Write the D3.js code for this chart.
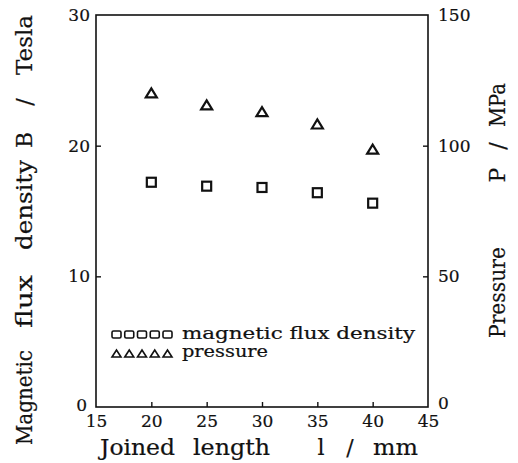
<!DOCTYPE html>
<html>
<head>
<meta charset="utf-8">
<script src="https://cdn.jsdelivr.net/npm/d3@7"></script>
<style>
  html, body { margin: 0; padding: 0; background: #fff; }
  svg { display: block; }
  text { font-family: "DejaVu Serif", "Liberation Serif", serif; fill: #111; stroke: #111; stroke-width: 0.2px; }
</style>
</head>
<body>
<svg id="chart" width="518" height="463"></svg>
<script>
// Joined length (mm) and the two measured quantities
const joinedLength = [20, 25, 30, 35, 40];
const fluxDensity = [17.2, 16.9, 16.8, 16.4, 15.6];   // B / Tesla
const pressure = [120.2, 115.6, 113.0, 108.3, 98.7];  // P / MPa

const xTicks = [15, 20, 25, 30, 35, 40, 45];
const bTicks = [0, 10, 20, 30];
const pTicks = [0, 50, 100, 150];

const legendLabels = ["magnetic flux density", "pressure"];

const frame = { left: 96, right: 428, top: 15, bottom: 407 };
const ink = "#111";
const serif = "DejaVu Serif, Liberation Serif, serif";

const svg = d3.select("#chart");

const x = d3.scaleLinear().domain([15, 45]).range([frame.left, frame.right]);
const yB = d3.scaleLinear().domain([0, 30]).range([frame.bottom, frame.top]);
const yP = d3.scaleLinear().domain([0, 150]).range([frame.bottom, frame.top]);

// Plot frame
svg.append("rect")
  .attr("x", frame.left).attr("y", frame.top)
  .attr("width", frame.right - frame.left).attr("height", frame.bottom - frame.top)
  .attr("fill", "none").attr("stroke", ink).attr("stroke-width", 1.6);

function styleAxis(g, fontSize) {
  g.select(".domain").remove();
  g.selectAll(".tick line").attr("stroke", ink).attr("stroke-width", 1.4);
  g.selectAll(".tick text").attr("font-size", fontSize).attr("fill", ink)
    .attr("font-family", serif);
}

// Bottom axis: ticks point into the plot
const gx = svg.append("g").attr("transform", `translate(0,${frame.bottom})`)
  .call(d3.axisBottom(x).tickValues(xTicks).tickSizeInner(-5).tickSizeOuter(0).tickPadding(8));
styleAxis(gx, 17);
gx.selectAll(".tick line").filter(d => d === 15 || d === 45).remove();

// Left axis (B)
const gl = svg.append("g").attr("transform", `translate(${frame.left},0)`)
  .call(d3.axisLeft(yB).tickValues(bTicks).tickSizeInner(-5).tickSizeOuter(0).tickPadding(6));
styleAxis(gl, 17);
gl.selectAll(".tick line").filter(d => d === 0 || d === 30).remove();
gl.selectAll(".tick text").filter(d => d === 0).attr("x", -9).attr("dy", "0.2em");

// Right axis (P)
const gr = svg.append("g").attr("transform", `translate(${frame.right},0)`)
  .call(d3.axisRight(yP).tickValues(pTicks).tickSizeInner(-5).tickSizeOuter(0).tickPadding(10));
styleAxis(gr, 17);
gr.selectAll(".tick line").filter(d => d === 0 || d === 150).remove();
gr.selectAll(".tick text").filter(d => d === 0).attr("dy", "0.1em");

// Markers
const sq = 9;
const triPath = (cx, cy, w, h) =>
  `M${cx - w / 2},${cy + h / 2}L${cx},${cy - h / 2}L${cx + w / 2},${cy + h / 2}Z`;

svg.append("g").selectAll("rect").data(joinedLength).join("rect")
  .attr("x", (d) => x(d) - sq / 2)
  .attr("y", (d, i) => yB(fluxDensity[i]) - sq / 2)
  .attr("width", sq).attr("height", sq)
  .attr("fill", "none").attr("stroke", ink).attr("stroke-width", 2.2);

svg.append("g").selectAll("path").data(joinedLength).join("path")
  .attr("d", (d, i) => triPath(x(d), yP(pressure[i]), 11, 9))
  .attr("fill", "none").attr("stroke", ink).attr("stroke-width", 2.2)
  .attr("stroke-linejoin", "miter");

// Legend
const legend = svg.append("g");
const legendX = d3.range(5).map(k => 116.5 + k * 12.75);
const rowY = [334.5, 353.5];

legend.selectAll("rect").data(legendX).join("rect")
  .attr("x", d => d - 4.5).attr("y", rowY[0] - 3.5)
  .attr("width", 9).attr("height", 7).attr("rx", 1.5)
  .attr("fill", "none").attr("stroke", ink).attr("stroke-width", 1.6);

legend.selectAll("path").data(legendX).join("path")
  .attr("d", d => triPath(d, rowY[1], 9, 7))
  .attr("fill", "none").attr("stroke", ink).attr("stroke-width", 1.6);

legend.append("text").attr("x", 182).attr("y", rowY[0] + 4)
  .attr("font-size", 16).attr("textLength", 233).attr("lengthAdjust", "spacingAndGlyphs")
  .text(legendLabels[0]);
legend.append("text").attr("x", 182).attr("y", rowY[1] + 3.5)
  .attr("font-size", 16).attr("textLength", 86).attr("lengthAdjust", "spacingAndGlyphs")
  .text(legendLabels[1]);

// Axis titles, set piece by piece along their baselines
const titleSize = 22;
function titlePiece(parent, str, pos, len, anchor) {
  const t = parent.append("text").attr("font-size", titleSize).text(str);
  t.attr("x", pos).attr("text-anchor", anchor || "start");
  if (len) t.attr("textLength", len).attr("lengthAdjust", "spacingAndGlyphs");
  return t;
}

const xTitle = svg.append("g").attr("transform", "translate(0,455)");
titlePiece(xTitle, "Joined", 100, 75);
titlePiece(xTitle, "length", 193, 77);
titlePiece(xTitle, "l", 321, null, "middle");
titlePiece(xTitle, "/", 350, null, "middle");
titlePiece(xTitle, "mm", 373, 45);

// Left title reads bottom to top
const lTitle = svg.append("g").attr("transform", "translate(32,0) rotate(-90)");
titlePiece(lTitle, "Magnetic", -445, 95);
titlePiece(lTitle, "flux", -328, 53);
titlePiece(lTitle, "density", -250, 90);
titlePiece(lTitle, "B", -140, null, "middle");
titlePiece(lTitle, "/", -102, null, "middle");
titlePiece(lTitle, "Tesla", -75, 60);

const rTitle = svg.append("g").attr("transform", "translate(505,0) rotate(-90)");
titlePiece(rTitle, "Pressure", -338, 91);
titlePiece(rTitle, "P", -175, null, "middle");
titlePiece(rTitle, "/", -146, null, "middle");
titlePiece(rTitle, "MPa", -127, 44);
</script>
</body>
</html>
